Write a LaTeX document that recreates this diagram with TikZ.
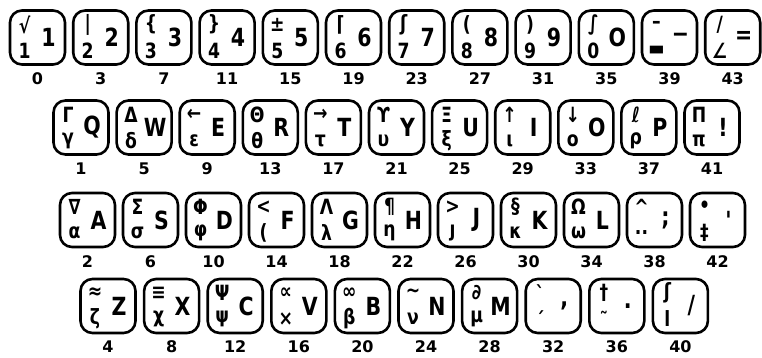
\documentclass[tikz,border=0pt]{standalone}
\usepackage{fontspec}
\setmainfont{DejaVu Sans}
\newfontfamily\keyfont{DejaVu Sans}[FakeStretch=0.82]
\usetikzlibrary{positioning}

\begin{document}
\begin{tikzpicture}[x=1pt, y=1pt,
  keycap/.style={draw, line width=2.6pt, rounded corners=12pt,
    minimum width=55pt, minimum height=54pt, inner sep=0pt},
  upsym/.style={font=\keyfont\bfseries\fontsize{21}{21}\selectfont, inner sep=0pt},
  mainsym/.style={font=\keyfont\bfseries\fontsize{25}{25}\selectfont, inner sep=0pt},
  codelabel/.style={font=\bfseries\fontsize{16}{16}\selectfont, inner sep=0pt}]
\useasboundingbox (0,0) rectangle (762,-358);

% digit row
\foreach \code/\up/\low/\main [count=\i from 0] in {0/√/1/1, 3/|/2/2,
  7/\{/3/3, 11/\}/4/4, 15/±/5/5, 19/⌈/6/6, 23/ʃ/7/7, 27/(/8/8, 31/)/9/9,
  35/∫/0/O, 39/–/▬/−, 43/{/}/∠/=}
{
  \node[keycap] (k\code) at (37.5+63.2*\i, -37.5) {};
  \node[upsym] at ([shift={(-13pt,13pt)}]k\code.center) {\up};
  \node[upsym] at ([shift={(-13pt,-13pt)}]k\code.center) {\low};
  \node[mainsym] at ([shift={(11pt,0pt)}]k\code.center) {\main};
  \node[codelabel, below=7pt of k\code] {\code};
}

% upper letter row
\foreach \code/\up/\low/\main [count=\i from 0] in {1/Γ/γ/Q, 5/Δ/δ/W,
  9/←/ε/E, 13/Θ/θ/R, 17/→/τ/T, 21/ϒ/υ/Y, 25/Ξ/ξ/U, 29/↑/ι/I, 33/↓/ο/O,
  37/ℓ/ρ/P, 41/Π/π/!}
{
  \node[keycap] (k\code) at (81+63.1*\i, -127.5) {};
  \node[upsym] at ([shift={(-13pt,13pt)}]k\code.center) {\up};
  \node[upsym] at ([shift={(-13pt,-13pt)}]k\code.center) {\low};
  \node[mainsym] at ([shift={(11pt,0pt)}]k\code.center) {\main};
  \node[codelabel, below=7pt of k\code] {\code};
}

% home row
\foreach \code/\up/\low/\main [count=\i from 0] in {2/∇/α/A, 6/Σ/σ/S,
  10/Φ/φ/D, 14/</(/F, 18/Λ/λ/G, 22/¶/η/H, 26/>/ȷ/J, 30/§/κ/K, 34/Ω/ω/L,
  38/\textasciicircum/../;, 42/•/‡/'}
{
  \node[keycap] (k\code) at (87.5+63*\i, -220) {};
  \node[upsym] at ([shift={(-13pt,13pt)}]k\code.center) {\up};
  \node[upsym] at ([shift={(-13pt,-13pt)}]k\code.center) {\low};
  \node[mainsym] at ([shift={(11pt,0pt)}]k\code.center) {\main};
  \node[codelabel, below=7pt of k\code] {\code};
}

% bottom row
\foreach \code/\up/\low/\main [count=\i from 0] in {4/≈/ζ/Z, 8/≡/χ/X,
  12/Ψ/ψ/C, 16/∝/×/V, 20/∞/β/B, 24/∼/ν/N, 28/∂/μ/M, 32/ˋ/ˊ/{,},
  36/†/˜/., 40/ʃ/l/{/}}
{
  \node[keycap] (k\code) at (108+63.6*\i, -306) {};
  \node[upsym] at ([shift={(-13pt,13pt)}]k\code.center) {\up};
  \node[upsym] at ([shift={(-13pt,-13pt)}]k\code.center) {\low};
  \node[mainsym] at ([shift={(11pt,0pt)}]k\code.center) {\main};
  \node[codelabel, below=6pt of k\code] {\code};
}
\end{tikzpicture}
\end{document}
